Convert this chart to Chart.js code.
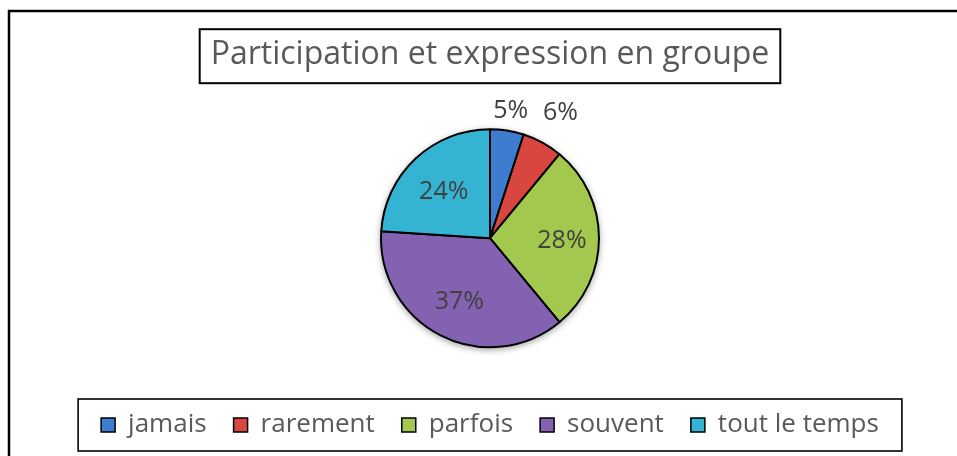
<!DOCTYPE html>
<html>
<head>
<meta charset="utf-8">
<script src="https://cdn.jsdelivr.net/npm/chart.js@4/dist/chart.umd.min.js"></script>
<style>
  html, body { margin: 0; padding: 0; background: #fff; }
  #zone { width: 957px; height: 456px; }
</style>
</head>
<body>
<div id="zone"><canvas id="camembert"></canvas></div>
<script>
// Données du graphique
const titre = "Participation et expression en groupe";
const categories = ["jamais", "rarement", "parfois", "souvent", "tout le temps"];
const pourcentages = [5, 6, 28, 37, 24];
const couleurs = ["#3d7ccf", "#d8463f", "#a2c94e", "#8462b2", "#35b3d3"];
// distance des étiquettes au centre, en fraction du rayon
const distEtiquettes = [1.21, 1.34, 0.66, 0.62, 0.62];

const police = "'Open Sans', sans-serif";

// Ombre du disque, cadre extérieur, cadre du titre et cadre de la légende
const cadres = {
  id: "cadres",
  beforeDatasetsDraw(chart) {
    const arc = chart.getDatasetMeta(0).data[0];
    if (!arc) return;
    const p = arc.getProps(["x", "y", "outerRadius"], true);
    const ctx = chart.ctx;
    ctx.save();
    ctx.shadowColor = "rgba(0,0,0,0.35)";
    ctx.shadowBlur = 6;
    ctx.shadowOffsetY = 2;
    ctx.fillStyle = "#fff";
    ctx.beginPath();
    ctx.arc(p.x, p.y, p.outerRadius + 1, 0, Math.PI * 2);
    ctx.fill();
    ctx.restore();
  },
  afterDraw(chart) {
    const ctx = chart.ctx;
    ctx.save();
    ctx.strokeStyle = "#000";
    ctx.lineWidth = 2.5;
    ctx.strokeRect(9, 11, 970, 470);

    // titre
    const t = chart.titleBlock;
    const to = chart.options.plugins.title;
    ctx.font = to.font.size + "px " + police;
    const w = ctx.measureText(titre).width;
    const cx = (t.left + t.right) / 2;
    const cy = t.top + to.padding.top + to.font.size * 0.6;
    ctx.lineWidth = 2;
    ctx.strokeRect(cx - w / 2 - 11, cy - 26, w + 22, 54);

    // légende
    const boites = chart.legend.legendHitBoxes;
    let g = Infinity, d = -Infinity, m = 0;
    boites.forEach((b) => {
      g = Math.min(g, b.left);
      d = Math.max(d, b.left + b.width);
      m = b.top + b.height / 2;
    });
    ctx.lineWidth = 1.6;
    ctx.strokeRect(g - 23, m - 26, d - g + 46, 52);
    ctx.restore();
  }
};

// Étiquettes de pourcentage
const etiquettes = {
  id: "etiquettes",
  afterDatasetsDraw(chart) {
    const ctx = chart.ctx;
    ctx.save();
    ctx.font = "25px " + police;
    ctx.fillStyle = "#404040";
    ctx.textAlign = "center";
    ctx.textBaseline = "middle";
    chart.getDatasetMeta(0).data.forEach((arc, i) => {
      const p = arc.getProps(["x", "y", "startAngle", "endAngle", "outerRadius"], true);
      const a = (p.startAngle + p.endAngle) / 2;
      const r = p.outerRadius * distEtiquettes[i];
      ctx.fillText(pourcentages[i] + "%", p.x + Math.cos(a) * r, p.y + Math.sin(a) * r + 3);
    });
    ctx.restore();
  }
};

new Chart(document.getElementById("camembert"), {
  type: "pie",
  data: {
    labels: categories,
    datasets: [
      {
        data: pourcentages,
        backgroundColor: couleurs,
        borderColor: "#000",
        borderWidth: 2,
        radius: 109
      }
    ]
  },
  options: {
    responsive: true,
    maintainAspectRatio: false,
    animation: false,
    layout: {
      padding: { left: 23, right: 0, top: 0, bottom: 8 }
    },
    plugins: {
      title: {
        display: true,
        text: titre,
        color: "#595959",
        font: { family: police, size: 32, weight: "normal" },
        padding: { top: 36, bottom: 17 }
      },
      legend: {
        position: "bottom",
        labels: {
          color: "#595959",
          font: { family: police, size: 26 },
          boxWidth: 14,
          boxHeight: 14,
          padding: 27,
          generateLabels(chart) {
            return categories.map((c, i) => ({
              text: c,
              fillStyle: couleurs[i],
              strokeStyle: "#000",
              lineWidth: 1.5,
              fontColor: "#595959",
              index: i
            }));
          }
        }
      },
      tooltip: { enabled: false }
    }
  },
  plugins: [cadres, etiquettes]
});
</script>
</body>
</html>
